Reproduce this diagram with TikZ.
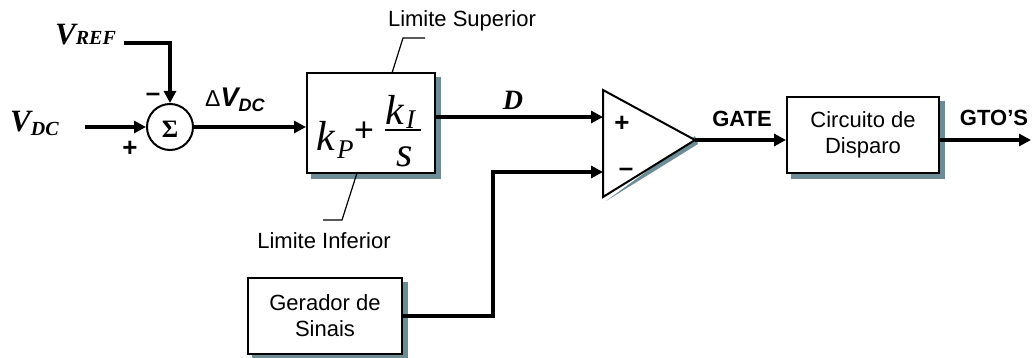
\documentclass[tikz,border=0pt]{standalone}
\usepackage{fontspec}
\setmainfont{Liberation Sans}
\newfontfamily\tnr{Liberation Serif}
\usetikzlibrary{arrows.meta,backgrounds}
\definecolor{shad}{RGB}{110,140,150}
\tikzset{
  sig/.style={line width=4pt, -{Triangle[length=12pt,width=12pt]}},
  sigline/.style={line width=4pt},
  leader/.style={line width=1.2pt},
  blockbox/.style={draw, line width=2pt, fill=white, inner sep=0pt, align=center,
    font=\fontsize{22}{26}\selectfont},
  shadowfill/.style={fill=shad},
  lbl/.style={inner sep=0pt, anchor=base},
  lblw/.style={inner sep=0pt, anchor=base west},
  sans/.style={font=\fontsize{22}{22}\selectfont},
  sansb/.style={font=\fontsize{22}{22}\selectfont\bfseries},
  serifit/.style={font=\fontsize{42}{42}\selectfont\tnr\itshape},
  serifsub/.style={font=\fontsize{27}{27}\selectfont\tnr\itshape},
  signmark/.style={inner sep=0pt, font=\fontsize{26}{26}\selectfont\bfseries},
}
\begin{document}
\begin{tikzpicture}[x=1pt,y=-1pt]
\useasboundingbox (0,0) rectangle (1032,358);

% summing junction
\node[draw, circle, line width=2pt, minimum size=46pt, inner sep=0pt] (sum) at (170,127) {};
\node[inner sep=0pt, font=\fontsize{25}{25}\selectfont\tnr\bfseries] (sigma) at (170,129) {Σ};

% PI block
\node[blockbox, minimum width=128pt, minimum height=100pt] (pi) at (371,123) {};
\node[lblw, serifit] (kp) at (316,150) {k};
\node[lblw, serifsub] (kpsub) at (337,159) {P};
\node[inner sep=0pt, font=\fontsize{34}{34}\selectfont] (plus) at (364,132) {+};
\node[lblw, serifit] (ki) at (385,125) {k};
\node[lblw, serifsub] (kisub) at (406,129) {I};
\coordinate (barl) at (385,130);
\coordinate (barr) at (421,130);
\draw[line width=1.5pt] (barl) -- (barr);
\node[lblw, serifit] (s) at (396,167) {s};

% comparator
\coordinate (ctop) at (603,90);
\coordinate (cbot) at (603,197);
\coordinate (cout) at (695,140);
\coordinate (cp) at (603,117);
\coordinate (cm) at (603,172);
\fill[shad] ([shift={(3,4)}]cbot) -- ([shift={(3,4)}]cout) -- ([shift={(0,-4)}]cout) -- cycle;
\draw[line width=2pt, fill=white, line join=miter] (ctop) -- (cout) -- (cbot) -- cycle;
\node[signmark] (cplus) at (622,124) {+};
\node[signmark] (cminus) at (626,172) {–};

% other blocks
\node[blockbox, minimum width=152pt, minimum height=76pt] (circ) at (863,135) {Circuito de\\Disparo};
\node[blockbox, minimum width=154pt, minimum height=76pt] (ger) at (325,316) {Gerador de\\Sinais};

% block shadows
\begin{scope}[on background layer]
\foreach \b in {pi,circ,ger}{
  \fill[shadowfill] ([shift={(5,5)}]\b.south west) rectangle ([shift={(5,5)}]\b.north east);
}
\end{scope}

% inputs
\coordinate (vdcin) at (85,127);
\coordinate (vrefin) at (124,43);
\draw[sig] (vdcin) -- (sum.west);
\draw[sig] (vrefin) -| (sum.north);
\node[lblw, font=\fontsize{31}{31}\selectfont\tnr\bfseries\itshape] (vref) at (55,45) {V\fontsize{20}{20}\selectfont REF};
\node[lblw, font=\fontsize{31}{31}\selectfont\tnr\bfseries\itshape] (vdc) at (10,132) {V\raisebox{-4pt}{\fontsize{20}{20}\selectfont DC}};
\node[signmark] (sminus) at (153,97) {–};
\node[signmark] (splus) at (130,149) {+};

% error signal
\draw[sig] (sum.east) -- (sum.east -| pi.west);
\node[lblw] (dv) at (205,107) {{\fontsize{23}{23}\selectfont Δ}{\fontsize{27}{27}\selectfont\bfseries\itshape V}\raisebox{-5pt}{\fontsize{18}{18}\selectfont\bfseries\itshape DC}};

% PI output
\draw[sig] (pi.east |- cp) -- (cp);
\node[lbl, font=\fontsize{28}{28}\selectfont\tnr\bfseries\itshape] (dlbl) at (513,110) {D};

% limits
\coordinate (lsa) at (392,73);
\coordinate (lsb) at (403,38);
\coordinate (lsc) at (425,38);
\draw[leader] (lsa) -- (lsb) -- (lsc);
\node[lbl, sans] (lsup) at (462,27) {Limite Superior};
\coordinate (lia) at (357,173);
\coordinate (lib) at (342,220);
\coordinate (lic) at (323,220);
\draw[leader] (lia) -- (lib) -- (lic);
\node[lbl, sans] (linf) at (324,248) {Limite Inferior};

% generator to comparator
\coordinate (gk) at (493,316);
\draw[sig] (ger.east) -- (gk) -- (gk |- cm) -- (cm);

% comparator output
\draw[sig] (cout) -- (cout -| circ.west);
\node[lbl, sansb] (gate) at (742,127) {GATE};

% output
\coordinate (gto) at (1031,140);
\draw[sig] (circ.east |- gto) -- (gto);
\node[lbl, sansb] (gtos) at (994,126) {GTO’S};
\end{tikzpicture}
\end{document}
